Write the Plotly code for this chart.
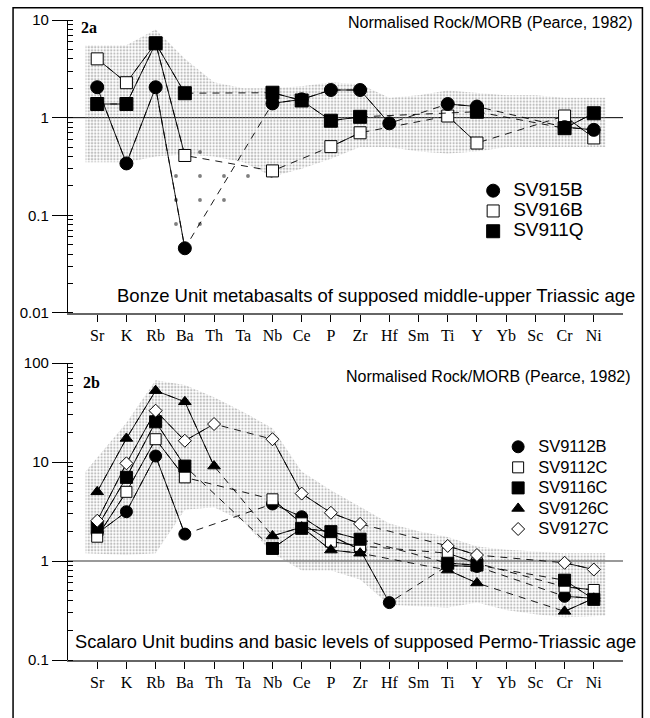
import plotly.graph_objects as go

N = None
elements = ["Sr", "K", "Rb", "Ba", "Th", "Ta", "Nb", "Ce", "P", "Zr",
            "Hf", "Sm", "Ti", "Y", "Yb", "Sc", "Cr", "Ni"]

# ---- Panel 2a : Bonze Unit (Rock/MORB) ----
sv915b = [2.05, 0.34, 2.05, 0.046, N, N, 1.40, 1.54, 1.92, 1.92, 0.875, N, 1.38, 1.30, N, N, 0.80, 0.75]
sv916b = [4.0, 2.28, 5.8, 0.41, N, N, 0.285, N, 0.505, 0.70, N, N, 1.04, 0.55, N, N, 1.04, 0.62]
sv911q = [1.38, 1.38, 5.77, 1.78, N, N, 1.80, 1.5, 0.93, 1.02, N, N, N, 1.15, N, N, 0.78, 1.11]
bonze_field_upper = [5.5, 5.5, 8, 4, 2.3, 2.0, 2.0, 2.1, 2.3, 2.2, 1.6, 1.7, 1.9, 1.8, 1.7, 1.7, 1.6, 1.6]
bonze_field_lower = [0.35, 0.35, 0.4, 0.42, 0.4, 0.35, 0.25, 0.3, 0.38, 0.5, 0.5, 0.45, 0.43, 0.45, 0.5, 0.5, 0.5, 0.5]
sparse_elements = ["Rb", "Ba", "Th", "Ta", "Nb"]
sparse_upper = [0.32, 0.45, 0.48, 0.32, 0.28]
sparse_lower = [0.075, 0.075, 0.075, 0.2, 0.22]

# ---- Panel 2b : Scalaro Unit (Rock/MORB) ----
sv9112b = [1.9, 3.15, 11.5, 1.87, N, N, 3.77, 2.8, 1.8, 1.3, 0.38, N, 0.9, 0.88, N, N, 0.44, 0.42]
sv9112c = [1.76, 5.0, 17, 7.0, N, N, 4.2, 2.4, 1.57, 1.42, N, N, 1.2, 0.95, N, N, 0.55, 0.51]
sv9116c = [2.2, 7.0, 25.5, 9.1, N, N, 1.34, 2.14, 1.98, 1.66, N, N, 0.95, 0.91, N, N, 0.64, 0.41]
sv9126c = [5.0, 17.3, 52.6, 40.6, 9.1, N, 1.79, 2.2, 1.29, 1.2, N, N, 0.81, 0.60, N, N, 0.31, 0.42]
sv9127c = [2.55, 9.7, 33, 16.4, 24.2, N, 17, 4.8, 3.07, 2.37, N, N, 1.42, 1.15, N, N, 0.96, 0.82]
scalaro_field_upper = [8, 25, 67, 60, 45, 32, 22, 8, 5.2, 3.5, 2.4, 2.0, 1.75, 1.4, 1.3, 1.25, 1.2, 1.2]
scalaro_field_lower = [1.2, 1.15, 1.2, 3.3, 3.5, 2.5, 1.2, 0.8, 0.8, 0.65, 0.36, 0.35, 0.34, 0.38, 0.32, 0.29, 0.27, 0.28]

# (name, values, symbol, fill, size, legend rank)
top_series = [("SV916B", sv916b, "square", "white", 12, 2),
              ("SV915B", sv915b, "circle", "black", 13, 1),
              ("SV911Q", sv911q, "square", "black", 13, 3)]
bot_series = [("SV9112B", sv9112b, "circle", "black", 12, 1),
              ("SV9112C", sv9112c, "square", "white", 11, 2),
              ("SV9116C", sv9116c, "square", "black", 12, 3),
              ("SV9126C", sv9126c, "triangle-up", "black", 11, 4),
              ("SV9127C", sv9127c, "diamond", "white", 10, 5)]

SANS = "Liberation Sans, Arial, sans-serif"
SERIF = "Liberation Serif, Times New Roman, serif"
idx = list(range(len(elements)))
fig = go.Figure()


def add_field(upper, lower, xa, ya, pad=0.4):
    xs = idx[:]
    xs[0] -= pad
    xs[-1] += pad
    fig.add_trace(go.Scatter(
        x=xs + xs[::-1], y=upper + lower[::-1], xaxis=xa, yaxis=ya,
        mode="lines", line=dict(width=0), fill="toself",
        fillcolor="rgba(255,255,255,0)",
        fillpattern=dict(shape=".", fgcolor="#808080", bgcolor="rgba(255,255,255,0)",
                         size=3.2, solidity=0.4),
        hoverinfo="skip", showlegend=False))


def add_series(name, vals, sym, fill, size, rank, xa, ya, legend, lsize):
    px = [i for i, v in zip(idx, vals) if v is not None]
    pv = [v for v in vals if v is not None]
    fig.add_trace(go.Scatter(x=px, y=pv, xaxis=xa, yaxis=ya, mode="lines",
                             line=dict(color="black", width=0.9, dash="7px,6px"),
                             hoverinfo="skip", showlegend=False))
    fig.add_trace(go.Scatter(x=idx, y=vals, xaxis=xa, yaxis=ya, mode="lines+markers",
                             connectgaps=False, name=name,
                             line=dict(color="black", width=0.9),
                             marker=dict(symbol=sym, size=size, color=fill,
                                         line=dict(color="black", width=1)),
                             showlegend=False))
    fig.add_trace(go.Scatter(x=[None], y=[None], xaxis=xa, yaxis=ya, mode="markers",
                             name="<span style='font-size:%spx'>%s</span>" % (lsize, name),
                             legend=legend, legendrank=rank,
                             marker=dict(symbol=sym, size=size, color=fill,
                                         line=dict(color="black", width=1))))


# panel a
add_field(bonze_field_upper, bonze_field_lower, "x", "y")
sx = [elements.index(e) for e in sparse_elements]
fig.add_trace(go.Scatter(
    x=sx + sx[::-1], y=sparse_upper + sparse_lower[::-1], xaxis="x", yaxis="y",
    mode="lines", line=dict(width=0), fill="toself", fillcolor="rgba(255,255,255,0)",
    fillpattern=dict(shape=".", fgcolor="black", bgcolor="rgba(255,255,255,0)",
                     size=24, solidity=0.02),
    hoverinfo="skip", showlegend=False))
for name, vals, sym, fill, size, rank in top_series:
    add_series(name, vals, sym, fill, size, rank, "x", "y", "legend", 19)

# panel b
add_field(scalaro_field_upper, scalaro_field_lower, "x2", "y2")
for name, vals, sym, fill, size, rank in bot_series:
    add_series(name, vals, sym, fill, size, rank, "x2", "y2", "legend2", 16.5)

# reference lines at 1
fig.add_shape(type="line", xref="x domain", yref="y", x0=0, x1=1, y0=1, y1=1,
              line=dict(color="black", width=1), layer="below")
fig.add_shape(type="line", xref="x2 domain", yref="y2", x0=0, x1=1, y0=1, y1=1,
              line=dict(color="#777", width=1.6), layer="below")
# outer frame of the figure
fig.add_shape(type="rect", xref="paper", yref="paper", x0=-0.099, x1=1.035,
              y0=-0.12, y1=1.019, line=dict(color="black", width=1.5))

xcommon = dict(range=[-1, 18], tickmode="array", tickvals=idx, ticktext=elements,
               ticks="outside", ticklen=7, tickcolor="black", showline=True,
               linecolor="#666", linewidth=1.5, showgrid=False, zeroline=False,
               tickfont=dict(family=SERIF, size=16, color="black"))
ycommon = dict(type="log", ticks="outside", ticklen=15, tickcolor="black", showline=True,
               linecolor="black", linewidth=1.2, showgrid=False, zeroline=False,
               tickfont=dict(family=SANS, size=15, color="black"),
               minor=dict(dtick="D1", ticks="inside", ticklen=5, tickcolor="black",
                          showgrid=False))

fig.update_layout(
    width=650, height=718, margin=dict(l=68, r=27, t=20, b=58),
    paper_bgcolor="white", plot_bgcolor="white",
    xaxis=dict(domain=[0, 1], anchor="y", **xcommon),
    yaxis=dict(domain=[0.5422, 1], anchor="x", range=[-2, 1],
               tickvals=[0.01, 0.1, 1, 10], ticktext=["0.01", "0.1", "1", "10"], **ycommon),
    xaxis2=dict(domain=[0, 1], anchor="y2", **xcommon),
    yaxis2=dict(domain=[0, 0.464], anchor="x2", range=[-1, 2],
                tickvals=[0.1, 1, 10, 100], ticktext=["0.1", "1", "10", "100"], **ycommon),
    legend=dict(x=0.73, y=0.757, xanchor="left", yanchor="top",
                font=dict(family=SANS, size=13.3, color="black"),
                bgcolor="rgba(0,0,0,0)", tracegroupgap=0),
    legend2=dict(x=0.775, y=0.357, xanchor="left", yanchor="top",
                 font=dict(family=SANS, size=13.5, color="black"),
                 bgcolor="rgba(0,0,0,0)", tracegroupgap=0),
    showlegend=True,
)

ann = [
    dict(text="<b>2a</b>", xref="x domain", yref="y domain", x=0.02, y=0.976,
         xanchor="left", yanchor="middle", font=dict(family=SERIF, size=16)),
    dict(text="Normalised Rock/MORB (Pearce, 1982)", xref="x domain", yref="y domain",
         x=1.0216, y=0.993, xanchor="right", yanchor="middle", font=dict(family=SANS, size=16)),
    dict(text="Bonze Unit metabasalts of supposed middle-upper Triassic age", xref="x domain",
         yref="y domain", x=1.025, y=0.061, xanchor="right", yanchor="middle",
         font=dict(family=SANS, size=18.5)),
    dict(text="<b>2b</b>", xref="x2 domain", yref="y2 domain", x=0.024, y=0.933,
         xanchor="left", yanchor="middle", font=dict(family=SERIF, size=16)),
    dict(text="Normalised Rock/MORB (Pearce, 1982)", xref="x2 domain", yref="y2 domain",
         x=1.018, y=0.953, xanchor="right", yanchor="middle", font=dict(family=SANS, size=16)),
    dict(text="Scalaro Unit budins and basic levels of supposed Permo-Triassic age",
         xref="x2 domain", yref="y2 domain", x=1.0265, y=0.061, xanchor="right",
         yanchor="middle", font=dict(family=SANS, size=18.3)),
]
for a in ann:
    a.update(showarrow=False)
    a["font"]["color"] = "black"
fig.update_layout(annotations=ann)

fig.write_html("out.html", config={"displayModeBar": False})

# remove the default page margin so the 650x718 figure fills the window exactly
with open("out.html", encoding="utf-8") as f:
    html = f.read()
html = html.replace("<head>", "<head><style>html,body{margin:0;padding:0;overflow:hidden}</style>", 1)
with open("out.html", "w", encoding="utf-8") as f:
    f.write(html)
